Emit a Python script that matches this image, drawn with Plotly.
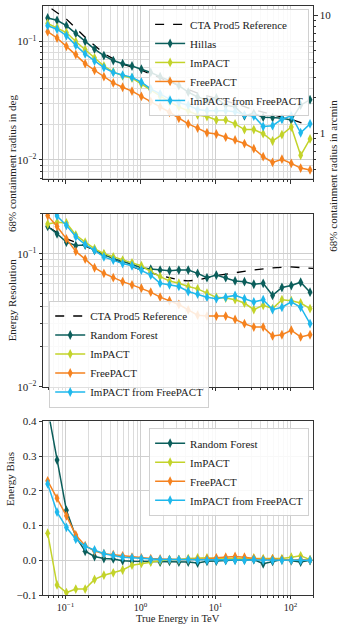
import plotly.graph_objects as go

# ---------------- data ----------------
energy = [0.05774, 0.07700, 0.10268, 0.13693, 0.18260, 0.24350, 0.32471, 0.43301,
          0.57743, 0.77001, 1.0268, 1.3693, 1.8260, 2.4350, 3.2471, 4.3301, 5.7743,
          7.7001, 10.268, 13.693, 18.260, 24.350, 32.471, 43.301, 57.743, 77.001,
          102.68, 136.93, 182.60]

# angular resolution (deg)
ang_hillas = [0.158, 0.151, 0.136, 0.117, 0.100, 0.0863, 0.076, 0.069, 0.0649, 0.062,
              0.0582, 0.0547, 0.0504, 0.0467, 0.0424, 0.0373, 0.0339, 0.0318, 0.0333,
              0.0289, 0.0280, 0.0235, 0.0247, 0.0229, 0.0227, 0.0224, 0.0217, 0.0289, 0.0322]
ang_impact = [0.142, 0.131, 0.119, 0.100, 0.0853, 0.0727, 0.062, 0.0553, 0.0512, 0.0491,
              0.0438, 0.039, 0.0343, 0.0308, 0.0280, 0.0260, 0.0239, 0.0232, 0.0217,
              0.0217, 0.0201, 0.0180, 0.0180, 0.0166, 0.0144, 0.0163, 0.0189, 0.0109, 0.0150]
ang_freepact = [0.121, 0.107, 0.0910, 0.0776, 0.0649, 0.0571, 0.0504, 0.0446, 0.0410, 0.0380,
                0.0343, 0.0312, 0.0280, 0.0252, 0.0224, 0.0201, 0.0185, 0.0169, 0.0165,
                0.0155, 0.0147, 0.0137, 0.0124, 0.0106, 0.0095, 0.0101, 0.0093, 0.0085, 0.0082]
ang_impact_fp = [0.136, 0.127, 0.112, 0.0927, 0.0785, 0.0683, 0.0601, 0.0547, 0.0519, 0.0497,
                 0.0452, 0.0397, 0.0361, 0.0325, 0.0304, 0.0289, 0.0266, 0.0260, 0.0260,
                 0.0260, 0.0255, 0.0239, 0.0234, 0.0191, 0.0194, 0.0220, 0.0235, 0.0169, 0.0201]
ref_energy = [0.065, 0.103, 0.187, 0.33, 0.59, 1.03, 1.85, 3.28, 5.75, 10.3, 18.1, 31.8,
              57.5, 101.0, 155.0]
ref_ang = [0.189, 0.154, 0.107, 0.0785, 0.0641, 0.0571, 0.049, 0.0424, 0.0366, 0.0329,
           0.0299, 0.0266, 0.0242, 0.0220, 0.0201]

# energy resolution
res_rf = [0.160, 0.141, 0.122, 0.115, 0.116, 0.106, 0.0984, 0.0918, 0.0877, 0.0829,
          0.0783, 0.0766, 0.0753, 0.0744, 0.0753, 0.0753, 0.0711, 0.066, 0.0691, 0.066,
          0.0624, 0.0616, 0.0589, 0.0599, 0.0486, 0.0557, 0.0576, 0.061, 0.0514]
res_impact = [0.167, 0.172, 0.170, 0.138, 0.122, 0.109, 0.100, 0.0945, 0.0893, 0.0853,
              0.0811, 0.0732, 0.0672, 0.0624, 0.060, 0.0567, 0.0544, 0.0506, 0.0470,
              0.0464, 0.0451, 0.0426, 0.0380, 0.0409, 0.0387, 0.0451, 0.0443, 0.0426, 0.0387]
res_freepact = [0.193, 0.160, 0.129, 0.104, 0.091, 0.0784, 0.0711, 0.066, 0.0617, 0.0583,
                0.0551, 0.0514, 0.0472, 0.0443, 0.0415, 0.0378, 0.0345, 0.0340, 0.0340,
                0.0340, 0.0321, 0.0298, 0.0281, 0.0281, 0.0241, 0.0246, 0.0266, 0.0237, 0.0246]
res_impact_fp = [0.235, 0.192, 0.163, 0.134, 0.117, 0.106, 0.0945, 0.0893, 0.0843, 0.0811,
                 0.0753, 0.069, 0.060, 0.0583, 0.0567, 0.0520, 0.0497, 0.0470, 0.0459,
                 0.0470, 0.0486, 0.0459, 0.0434, 0.0451, 0.0380, 0.0396, 0.0434, 0.0396, 0.0298]
ref_res_energy = [0.063, 0.103, 0.187, 0.33, 0.59, 1.03, 1.85, 3.27, 4.3, 5.75, 10.3, 18.0,
                  31.6, 57.2, 100.0, 200.0]
ref_res = [0.155, 0.129, 0.114, 0.096, 0.0844, 0.0753, 0.0684, 0.0634, 0.0624, 0.0634,
           0.0684, 0.0719, 0.0753, 0.0783, 0.0796, 0.0774]

# energy bias
bias_rf = [0.437, 0.289, 0.144, 0.068, 0.026, 0.011, 0.005, 0.004, -0.001, -0.003,
           -0.003, -0.003, -0.005, -0.003, -0.005, -0.005, -0.008, -0.003, -0.002, 0.0,
           0.001, 0.001, 0.002, -0.010, -0.003, 0.002, -0.001, -0.005, 0.0]
bias_impact = [0.078, -0.071, -0.093, -0.083, -0.083, -0.055, -0.043, -0.036, -0.028, -0.014,
               -0.009, -0.005, -0.001, 0.002, 0.002, 0.005, 0.007, 0.007, 0.005, 0.005,
               0.007, 0.005, 0.007, 0.005, 0.005, 0.005, 0.009, 0.013, 0.002]
bias_freepact = [0.229, 0.179, 0.128, 0.073, 0.042, 0.027, 0.019, 0.016, 0.013, 0.009,
                 0.007, 0.005, 0.004, 0.002, 0.002, 0.002, 0.002, 0.004, 0.007, 0.009,
                 0.011, 0.009, 0.005, 0.002, 0.004, 0.002, 0.0, 0.002, 0.0]
bias_impact_fp = [0.220, 0.139, 0.095, 0.061, 0.040, 0.030, 0.019, 0.014, 0.009, 0.007,
                  0.005, 0.002, 0.002, 0.002, 0.002, 0.002, 0.0, 0.0, 0.0, 0.0,
                  0.0, 0.0, 0.002, 0.0, 0.0, 0.0, 0.0, 0.0, 0.0]

x_major = [0.1, 1, 10, 100]
x_major_text = ["10<sup>−1</sup>", "10<sup>0</sup>", "10<sup>1</sup>", "10<sup>2</sup>"]
x_minor = [0.06, 0.07, 0.08, 0.09, 0.2, 0.3, 0.4, 0.5, 0.6, 0.7, 0.8, 0.9,
           2, 3, 4, 5, 6, 7, 8, 9, 20, 30, 40, 50, 60, 70, 80, 90, 200]
y_log_major = [0.01, 0.1]
y_log_major_text = ["10<sup>−2</sup>", "10<sup>−1</sup>"]
y_log_minor = [0.007, 0.008, 0.009, 0.02, 0.03, 0.04, 0.05, 0.06, 0.07, 0.08, 0.09, 0.2]
arcmin_major = [1, 10]
arcmin_major_text = ["1", "10"]
arcmin_minor = [0.5, 0.6, 0.7, 0.8, 0.9, 2, 3, 4, 5, 6, 7, 8, 9]
DEG_TO_ARCMIN = 60.0

# ---------------- style ----------------
C_TEAL = "#0b5e5b"
C_YEL = "#c3d32a"
C_ORA = "#f5821f"
C_BLUE = "#1fb8ec"
FONT = "Liberation Serif"
GRID = "#cfcfcf"
MINOR_GRID = "#dcdcdc"

fig = go.Figure()


def series(x, y, name, color, xa, ya, legend, bias=False):
    err = dict(type="constant", value=0.005) if bias else dict(type="percent", value=4)
    err.update(color=color, thickness=1.3, width=0)
    return go.Scatter(x=x, y=y, name=name, mode="lines+markers", xaxis=xa, yaxis=ya,
                      legend=legend, line=dict(color=color, width=1.5),
                      marker=dict(symbol="diamond-tall", size=7, color=color),
                      error_y=err)


# panel 1
fig.add_trace(go.Scatter(x=ref_energy, y=ref_ang, name="CTA Prod5 Reference", mode="lines",
                         xaxis="x", yaxis="y", legend="legend",
                         line=dict(color="black", width=1.3, dash="dash")))
fig.add_trace(series(energy, ang_hillas, "Hillas", C_TEAL, "x", "y", "legend"))
fig.add_trace(series(energy, ang_impact, "ImPACT", C_YEL, "x", "y", "legend"))
fig.add_trace(series(energy, ang_freepact, "FreePACT", C_ORA, "x", "y", "legend"))
fig.add_trace(series(energy, ang_impact_fp, "ImPACT from FreePACT", C_BLUE, "x", "y", "legend"))
# secondary (arcmin) axis carrier: same Hillas values in arcmin, drawn invisibly
fig.add_trace(go.Scatter(x=energy, y=[v * DEG_TO_ARCMIN for v in ang_hillas], mode="lines",
                         xaxis="x", yaxis="y4", showlegend=False, hoverinfo="skip",
                         opacity=0, line=dict(width=0)))

# panel 2
fig.add_trace(go.Scatter(x=ref_res_energy, y=ref_res, name="CTA Prod5 Reference", mode="lines",
                         xaxis="x2", yaxis="y2", legend="legend2",
                         line=dict(color="black", width=1.3, dash="dash")))
fig.add_trace(series(energy, res_rf, "Random Forest", C_TEAL, "x2", "y2", "legend2"))
fig.add_trace(series(energy, res_impact, "ImPACT", C_YEL, "x2", "y2", "legend2"))
fig.add_trace(series(energy, res_freepact, "FreePACT", C_ORA, "x2", "y2", "legend2"))
fig.add_trace(series(energy, res_impact_fp, "ImPACT from FreePACT", C_BLUE, "x2", "y2", "legend2"))

# panel 3
fig.add_trace(series(energy, bias_rf, "Random Forest", C_TEAL, "x3", "y3", "legend3", True))
fig.add_trace(series(energy, bias_impact, "ImPACT", C_YEL, "x3", "y3", "legend3", True))
fig.add_trace(series(energy, bias_freepact, "FreePACT", C_ORA, "x3", "y3", "legend3", True))
fig.add_trace(series(energy, bias_impact_fp, "ImPACT from FreePACT", C_BLUE, "x3", "y3", "legend3", True))

axis_common = dict(showline=True, mirror=True, linecolor="#333", linewidth=0.8,
                   showgrid=True, gridcolor=GRID, gridwidth=1, zeroline=False,
                   ticks="outside", ticklen=3.5, tickwidth=0.8, tickcolor="#333",
                   tickfont=dict(family=FONT, size=11, color="#222"))

minor_x = dict(tickvals=x_minor, showgrid=True, gridcolor=MINOR_GRID, gridwidth=0.8,
               ticks="outside", ticklen=2, tickcolor="#333", tickwidth=0.6)
minor_ylog = dict(tickvals=y_log_minor, showgrid=True, gridcolor=MINOR_GRID, gridwidth=0.8,
                  ticks="outside", ticklen=2, tickcolor="#333", tickwidth=0.6)

xcfg = dict(type="log", range=[-1.301, 2.301], tickmode="array", tickvals=x_major,
            ticktext=x_major_text, minor=minor_x, **axis_common)

d1 = [0.7059, 1.0]
d2 = [0.3534, 0.6476]
d3 = [0.0, 0.2946]

legend_common = dict(xanchor="left", yanchor="top", bgcolor="rgba(255,255,255,0.85)",
                     bordercolor="#d0d0d0", borderwidth=1, itemwidth=30,
                     font=dict(family=FONT, size=11, color="#222"))

fig.update_layout(
    width=348, height=625,
    margin=dict(l=43, r=35, t=0, b=30),
    paper_bgcolor="white", plot_bgcolor="white",
    font=dict(family=FONT, size=11, color="#222"),
    xaxis=dict(anchor="y", showticklabels=False, **xcfg),
    xaxis2=dict(anchor="y2", showticklabels=False, **xcfg),
    xaxis3=dict(anchor="y3", **xcfg),
    yaxis=dict(domain=d1, anchor="x", type="log", range=[-2.165, -0.70], tickmode="array",
               tickvals=y_log_major, ticktext=y_log_major_text, minor=minor_ylog, **axis_common),
    yaxis4=dict(overlaying="y", side="right", anchor="x", type="log",
                range=[-2.165 + 1.7782, -0.70 + 1.7782], tickmode="array",
                tickvals=arcmin_major, ticktext=arcmin_major_text, showgrid=False,
                showline=False, zeroline=False, ticks="outside", ticklen=3.5, tickwidth=0.8,
                tickcolor="#333", tickfont=dict(family=FONT, size=11, color="#222"),
                minor=dict(tickvals=arcmin_minor, ticks="outside", ticklen=2,
                           tickcolor="#333", tickwidth=0.6, showgrid=False)),
    yaxis2=dict(domain=d2, anchor="x2", type="log", range=[-2.0, -0.699], tickmode="array",
                tickvals=y_log_major, ticktext=y_log_major_text, minor=minor_ylog, **axis_common),
    yaxis3=dict(domain=d3, anchor="x3", range=[-0.1, 0.4], tickmode="array",
                tickvals=[-0.1, 0.0, 0.1, 0.2, 0.3, 0.4], tickformat=".1f", **axis_common),
    legend=dict(x=0.393, y=0.995, **legend_common),
    legend2=dict(x=0.023, y=0.50, **legend_common),
    legend3=dict(x=0.393, y=0.284, **legend_common),
    annotations=[
        dict(text="68% containment radius in deg", xref="paper", yref="paper",
             x=-0.145, y=0.853, textangle=-90, showarrow=False,
             font=dict(family=FONT, size=11, color="#222")),
        dict(text="68% containment radius in arcmin", xref="paper", yref="paper",
             x=1.105, y=0.845, textangle=-90, showarrow=False,
             font=dict(family=FONT, size=11, color="#222")),
        dict(text="Energy Resolution", xref="paper", yref="paper",
             x=-0.145, y=0.5, textangle=-90, showarrow=False,
             font=dict(family=FONT, size=11, color="#222")),
        dict(text="Energy Bias", xref="paper", yref="paper",
             x=-0.15, y=0.147, textangle=-90, showarrow=False,
             font=dict(family=FONT, size=11, color="#222")),
        dict(text="True Energy in TeV", xref="paper", yref="paper",
             x=0.5, y=-0.0504, yanchor="bottom", showarrow=False, borderpad=0,
             font=dict(family=FONT, size=10.5, color="#222")),
    ],
)
fig.update_xaxes(tickfont=dict(family=FONT, size=10, color="#222"), selector=dict(anchor="y3"))

fig.write_html("out.html", config={"displayModeBar": False},
               post_script="document.body.style.margin='0';document.body.style.overflow='hidden';")
